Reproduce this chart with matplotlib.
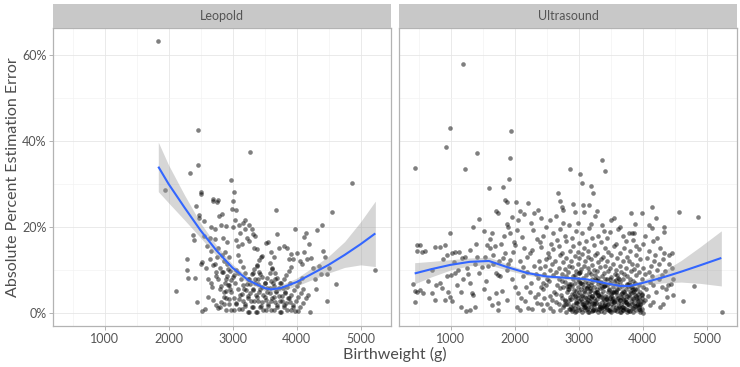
import numpy as np
import matplotlib
matplotlib.use("Agg")
import matplotlib.pyplot as plt
from matplotlib.ticker import FixedLocator, FuncFormatter

plt.rcParams['font.family'] = ['Lato', 'DejaVu Sans']

# ---------------- Leopold data ----------------
leo_sparse_bw = [1840, 1950, 2110, 2290, 2290, 2300, 2340, 2380, 2400, 2410,
                 2430, 2450, 2460, 2460, 2470, 2480, 2500, 2510, 2510, 2520,
                 2530, 2560, 2560, 2570, 2600, 2610, 2650, 2660, 2670, 2690,
                 2700, 2720, 2730, 2740, 2740, 2760, 2770, 2780, 2790, 2800,
                 2800, 2820, 2830, 2840, 2850, 2870, 2880, 2900, 2920, 2930,
                 2950, 2980, 2990, 3000, 3010, 3030, 3040, 3050, 3060, 3080,
                 3100, 3120, 3150, 3170, 3190, 3200, 3230, 3260, 3280, 3300,
                 3320, 3340, 3380, 3450, 3520, 3550, 3600, 3650, 3680, 3700,
                 3730, 3800, 3850, 3880, 3920, 3950, 3980, 4000, 4050, 4080,
                 4110, 4120, 4150, 4170, 4200, 4210, 4230, 4250, 4280, 4300,
                 4320, 4350, 4380, 4400, 4420, 4440, 4470, 4480, 4500, 4560,
                 4620, 4870, 5230, 2620, 2680, 2700, 2720, 2760, 2800, 2840,
                 2860, 2880, 2900, 2920, 2940, 2960, 2580, 2640, 2660, 3250,
                 3350]
leo_sparse_err = [63.2, 28.5, 5.2, 12.5, 10.0, 8.2, 32.5, 18.2, 17.0, 8.2,
                  24.8, 2.5, 42.5, 34.5, 22.8, 22.0, 28.2, 27.7, 11.5, 11.8,
                  0.5, 17.8, 21.3, 1.0, 15.5, 3.8, 12.5, 14.5, 7.0, 26.5,
                  26.0, 17.3, 19.5, 8.5, 1.8, 25.8, 26.2, 15.0, 22.5, 10.5,
                  5.5, 20.5, 23.0, 13.5, 17.5, 2.0, 14.2, 20.2, 16.5, 10.3,
                  3.2, 31.0, 24.2, 20.0, 26.0, 28.2, 21.5, 24.0, 17.0, 15.5,
                  20.5, 18.5, 16.0, 21.0, 21.5, 19.5, 17.5, 16.8, 37.3, 19.5,
                  18.3, 15.0, 14.8, 13.0, 16.3, 16.5, 14.2, 13.0, 24.0, 18.3,
                  15.0, 15.5, 15.0, 12.5, 13.8, 12.5, 19.5, 14.0, 12.0, 11.5,
                  17.7, 14.3, 18.5, 12.5, 16.0, 0.3, 12.8, 10.5, 8.0, 5.5,
                  19.2, 11.0, 9.0, 20.5, 14.5, 13.0, 9.0, 2.8, 10.5, 23.5,
                  6.8, 30.2, 10.0, 8.0, 6.0, 3.0, 11.5, 13.0, 1.5, 9.5,
                  12.0, 7.0, 0.8, 8.5, 13.0, 5.5, 10.5, 17.5, 20.0, 20.5,
                  18.0]

leo_streak_bw = [3020, 3060, 3100, 3140, 3180, 3220, 3260, 3300, 3340, 3380, 3420, 3460,
                 2980, 2940, 2900, 2860, 2820, 2780, 2740, 2700,
                 3240, 3200, 3160, 3120, 3080, 3040, 3000, 2960, 2920,
                 3260, 3300, 3340, 3380, 3420, 3460, 3500, 3540, 3580, 3620,
                 3480, 3440, 3400, 3360, 3320, 3280, 3240, 3200, 3160, 3120, 3080,
                 3520, 3560, 3600, 3640, 3680, 3720, 3760, 3800, 3840, 3880, 3920,
                 3740, 3700, 3660, 3620, 3580, 3540, 3500, 3460, 3420, 3380,
                 3760, 3800, 3840, 3880, 3920, 3960, 4000, 4040, 4080,
                 3980, 3940, 3900, 3860, 3820, 3780, 3740, 3700, 3660, 3620, 3580,
                 4020, 4060, 4100, 4140, 4180,
                 2780, 2820, 2860, 2900, 2940, 2980, 3020, 3060,
                 3095, 3055, 3015, 2975, 2935, 2895, 2855,
                 3155, 3195, 3235, 3275, 3315, 3355, 3395, 3435,
                 3365, 3325, 3285, 3245, 3205, 3165, 3125, 3085,
                 3385, 3425, 3465, 3505, 3545, 3585, 3625, 3665,
                 3595, 3555, 3515, 3475, 3435, 3395, 3355, 3315,
                 3655, 3695, 3735, 3775, 3815, 3855, 3895,
                 3845, 3805, 3765, 3725, 3685, 3645, 3605,
                 3905, 3945, 3985, 4025, 4065, 4105]
leo_streak_err = [0.7, 2.0, 3.2, 4.5, 5.7, 6.8, 8.0, 9.1, 10.2, 11.2, 12.3, 13.3,
                  0.7, 2.0, 3.4, 4.9, 6.4, 7.9, 9.5, 11.1,
                  0.3, 1.6, 2.8, 4.2, 5.5, 6.9, 8.3, 9.8, 11.3,
                  0.3, 1.5, 2.7, 3.8, 5.0, 6.1, 7.1, 8.2, 9.2, 10.2,
                  0.6, 1.7, 2.9, 4.2, 5.4, 6.7, 8.0, 9.4, 10.8, 12.2, 13.6,
                  0.6, 1.7, 2.8, 3.8, 4.9, 5.9, 6.9, 7.9, 8.9, 9.8, 10.7,
                  0.3, 1.4, 2.5, 3.6, 4.7, 5.9, 7.1, 8.4, 9.6, 10.9,
                  0.3, 1.3, 2.3, 3.4, 4.3, 5.3, 6.3, 7.2, 8.1,
                  0.5, 1.5, 2.6, 3.6, 4.7, 5.8, 7.0, 8.1, 9.3, 10.5, 11.7,
                  0.5, 1.5, 2.4, 3.4, 4.3,
                  1.1, 2.5, 3.8, 5.2, 6.5, 7.7, 8.9, 10.1,
                  1.0, 2.3, 3.6, 5.0, 6.5, 7.9, 9.5,
                  1.0, 2.2, 3.4, 4.6, 5.7, 6.9, 8.0, 9.0,
                  0.3, 1.5, 2.7, 4.0, 5.3, 6.6, 8.0, 9.4,
                  0.3, 1.5, 2.6, 3.7, 4.8, 5.9, 6.9, 7.9,
                  0.8, 2.0, 3.1, 4.3, 5.5, 6.8, 8.0, 9.4,
                  0.8, 1.9, 2.9, 4.0, 5.0, 6.0, 6.9,
                  0.8, 1.8, 2.9, 4.0, 5.2, 6.3, 7.5,
                  0.8, 1.8, 2.8, 3.7, 4.7, 5.6]

# Leopold loess fit
leo_fit_bw = [1840, 2000, 2250, 2500, 2750, 3000, 3250, 3500, 3600, 3750,
              4000, 4250, 4500, 4750, 5000, 5230]
leo_fit = [34.0, 30.0, 24.5, 19.2, 14.5, 10.5, 7.6, 5.8, 5.5, 5.8,
           7.2, 9.2, 11.2, 13.5, 16.0, 18.5]
leo_fit_lo = [28.2, 25.6, 21.6, 17.5, 13.3, 9.7, 6.9, 5.2, 4.9, 5.1,
              6.3, 7.8, 9.3, 10.6, 11.2, 10.8]
leo_fit_hi = [39.7, 34.4, 27.4, 20.9, 15.7, 11.3, 8.3, 6.4, 6.1, 6.5,
              8.1, 10.6, 13.2, 16.6, 21.2, 26.0]

# ---------------- Ultrasound data ----------------
us_left_bw = [446, 1201, 992, 930, 1420, 1222, 1951, 1925, 1909, 1602,
              1826, 1852, 1888, 2024, 1711, 1748, 1347, 1451, 998,
              470, 530, 470, 560, 600, 420, 446, 470, 520, 446,
              575, 715, 760, 860, 965, 992, 1018, 830, 780, 705,
              760, 836, 915, 940, 1018, 1070, 1125, 1175, 1230, 1305,
              1003, 1070, 1120, 940, 915, 1165, 1245, 1305, 1383, 1305,
              1330, 1345, 1450, 1487, 1565, 1617, 1645, 1710, 1748, 1775,
              1878, 1905, 1930, 1982, 2008, 1930, 1878, 1905, 1955, 2034,
              2112, 1617, 1670, 1705, 1748, 1748, 1800, 1878, 2034, 2060,
              2125, 2138, 2190, 2242, 2268, 2294, 2346, 2398, 2410, 2380,
              2360, 2410, 2346, 2320, 2242, 2216, 2165, 2086,
              1540, 1580, 1660, 1690, 1560, 1520, 1600, 1650, 1820, 1850,
              1790, 1960, 2000, 2080, 2150, 2200, 2250, 2300, 2330, 2100,
              2180, 2270, 2370, 2400, 1280, 1380, 1400, 1420, 1100, 1160,
              1200, 650, 1050, 880, 1250, 2420, 2360, 2260, 2150, 2210,
              2050, 1990, 1830, 1760, 1530, 2420, 2440]
us_left_err = [33.8, 57.9, 42.9, 38.6, 37.1, 33.4, 42.2, 36.0, 31.1, 29.1,
               29.3, 26.3, 25.9, 25.9, 23.8, 23.2, 20.1, 21.9, 18.5,
               15.8, 15.9, 14.5, 14.3, 14.5, 6.8, 5.2, 5.0, 5.3, 2.5,
               4.6, 4.6, 3.1, 5.9, 4.8, 3.7, 2.9, 7.0, 6.6, 10.0,
               15.4, 15.4, 15.8, 13.5, 13.9, 14.3, 14.3, 12.7, 13.1, 14.7,
               8.9, 9.3, 10.0, 8.5, 3.1, 1.5, 0.4, 0.6, 1.5, 6.9,
               4.6, 4.2, 9.3, 10.8, 15.8, 15.0, 18.5, 9.3, 8.9, 8.5,
               10.0, 11.5, 12.3, 14.3, 15.8, 18.5, 20.8, 20.1, 22.4, 19.3,
               17.6, 17.2, 11.5, 4.6, 0.8, 2.3, 5.2, 3.1, 1.5, 4.6,
               8.5, 10.8, 13.1, 13.9, 14.7, 19.3, 17.2, 16.5, 15.3, 12.1,
               8.1, 6.0, 2.3, 3.8, 4.9, 1.2, 2.7, 0.8,
               13.0, 11.0, 13.5, 15.5, 7.5, 5.5, 3.5, 1.8, 12.8, 14.0,
               16.0, 8.0, 6.0, 12.0, 15.0, 9.5, 7.0, 11.0, 9.0, 3.5,
               6.0, 1.0, 4.5, 10.5, 9.0, 11.5, 16.0, 13.0, 6.5, 5.0,
               7.8, 7.5, 11.8, 12.5, 10.5, 22.0, 24.0, 21.0, 23.0, 25.5,
               21.5, 16.5, 18.0, 12.0, 19.0, 2.0, 7.0]

us_mid_bw = [
    2445, 2462, 2438, 2455, 2470, 2448,
    2505, 2490, 2512, 2497, 2520, 2488,
    2548, 2560, 2541, 2555, 2538, 2566, 2552,
    2602, 2590, 2611, 2596, 2585, 2607, 2598,
    2655, 2642, 2661, 2648, 2638, 2657, 2652,
    2703, 2692, 2711, 2698, 2688, 2707, 2695, 2714,
    2752, 2740, 2761, 2745, 2758, 2737, 2750,
    2800, 2788, 2812, 2795, 2806, 2783, 2798, 2809, 2791,
    2852, 2840, 2861, 2845, 2858, 2837, 2849, 2862, 2843,
    2898, 2910, 2889, 2903, 2892, 2912, 2896, 2885, 2906, 2900,
    2952, 2940, 2961, 2945, 2958, 2937, 2949, 2963, 2942, 2955,
    3003, 2990, 3012, 2995, 3008, 2984, 3000, 3014, 2992, 3006, 2988, 3010, 2997,
    3052, 3040, 3061, 3045, 3058, 3037, 3049, 3063, 3042, 3055, 3048,
    3100, 3088, 3112, 3095, 3106, 3083, 3098, 3109, 3091, 3104, 3087, 3111,
    3152, 3140, 3161, 3145, 3158, 3137, 3149, 3163, 3142, 3155, 3147, 3160,
    3203, 3190, 3212, 3195, 3208, 3184, 3200, 3214, 3192, 3206, 3188, 3210, 3197,
    3252, 3240, 3261, 3245, 3258, 3237, 3249, 3263, 3242, 3255, 3247, 3260,
    3300, 3288, 3312, 3295, 3306, 3283, 3298, 3309, 3291, 3304, 3287, 3311,
    3352, 3340, 3361, 3345, 3358, 3337, 3349, 3363, 3342, 3355, 3347, 3360,
    3403, 3390, 3412, 3395, 3408, 3384, 3400, 3414, 3392, 3406, 3388, 3410, 3397,
    3452, 3440, 3461, 3445, 3458, 3437, 3449, 3463, 3442, 3455, 3447,
    3500, 3488, 3512, 3495, 3506, 3483, 3498, 3509, 3491, 3504, 3487, 3511,
    3552, 3540, 3561, 3545, 3558, 3537, 3549, 3563, 3542, 3555,
    3603, 3590, 3612, 3595, 3608, 3584, 3600, 3614, 3592, 3606, 3588, 3610,
    3652, 3640, 3661, 3645, 3658, 3637, 3649, 3663, 3642, 3655, 3647,
    3700, 3688, 3712, 3695, 3706, 3683, 3698, 3709, 3691, 3704, 3687,
    3752, 3740, 3761, 3745, 3758, 3737, 3749, 3763, 3742, 3755, 3747,
    3803, 3790, 3812, 3795, 3808, 3784, 3800, 3814, 3792, 3806, 3788,
    3852, 3840, 3861, 3845, 3858, 3837, 3849, 3863, 3842, 3855,
    3900, 3888, 3912, 3895, 3906, 3883, 3898, 3909, 3891, 3904,
    3952, 3940, 3961, 3945, 3958, 3937, 3949, 3963, 3942,
    4003, 3990, 4012, 3995, 4008, 3984, 4000, 4014]
us_mid_err = [
    0.8, 3.5, 5.5, 9.0, 11.0, 18.0,
    2.0, 6.5, 8.0, 12.5, 14.0, 20.0,
    1.2, 4.0, 7.5, 10.0, 13.0, 16.0, 21.5,
    0.5, 3.0, 5.0, 8.8, 11.5, 14.8, 18.5,
    2.5, 4.5, 6.5, 9.5, 12.0, 17.0, 22.5,
    0.8, 2.2, 5.8, 7.8, 10.5, 13.5, 15.5, 19.5,
    1.5, 3.5, 6.0, 9.0, 11.8, 14.0, 21.0,
    0.3, 2.8, 4.8, 7.2, 8.5, 10.2, 12.8, 16.8, 18.0,
    1.0, 2.0, 3.8, 5.5, 6.8, 9.5, 11.0, 14.5, 20.5,
    0.5, 1.8, 3.2, 4.5, 6.2, 7.8, 10.8, 12.2, 15.5, 17.5,
    0.2, 1.2, 2.5, 4.0, 5.2, 7.0, 8.8, 9.8, 13.2, 19.0,
    0.8, 1.5, 2.8, 3.5, 4.8, 6.0, 7.5, 9.2, 11.5, 12.8, 14.2, 16.2, 21.0,
    0.3, 1.0, 2.2, 3.2, 4.2, 5.5, 6.8, 8.2, 10.2, 13.8, 18.5,
    0.6, 1.8, 2.6, 3.8, 5.0, 6.0, 7.2, 8.8, 11.0, 12.0, 15.0, 16.8,
    0.2, 1.2, 2.0, 3.0, 4.5, 5.8, 7.0, 9.5, 10.5, 13.0, 14.5, 19.8,
    0.4, 1.4, 2.4, 3.4, 4.0, 5.2, 6.5, 8.0, 9.0, 11.2, 12.5, 17.5, 20.8,
    0.8, 1.6, 2.8, 3.6, 4.8, 6.0, 7.8, 8.8, 10.0, 13.5, 15.8, 22.5,
    0.2, 1.0, 2.0, 3.2, 4.2, 5.5, 6.8, 7.5, 9.8, 11.8, 14.0, 18.0,
    0.5, 1.5, 2.5, 3.8, 4.5, 5.8, 7.2, 8.5, 10.8, 12.5, 16.5, 20.5,
    0.3, 1.2, 2.2, 3.0, 4.0, 5.2, 6.2, 8.0, 9.2, 11.0, 13.0, 15.2, 19.0,
    0.6, 1.8, 2.8, 3.8, 5.0, 6.5, 7.8, 9.8, 12.0, 14.2, 17.5,
    0.2, 1.0, 2.0, 3.4, 4.4, 5.6, 7.0, 8.4, 10.5, 13.5, 18.8, 21.5,
    0.8, 1.6, 2.6, 3.5, 4.8, 6.0, 7.5, 9.0, 11.5, 15.5,
    0.4, 1.4, 2.4, 3.2, 4.2, 5.2, 6.8, 8.2, 10.0, 12.8, 16.0, 19.5,
    0.2, 1.2, 2.0, 3.0, 4.5, 5.8, 7.2, 9.5, 11.0, 14.0, 20.0,
    0.6, 1.5, 2.6, 3.6, 4.8, 6.2, 7.8, 9.0, 12.2, 15.0, 18.0,
    0.3, 1.0, 2.2, 3.2, 4.0, 5.5, 6.5, 8.5, 10.5, 13.0, 16.8,
    0.5, 1.8, 2.8, 4.2, 5.2, 7.0, 8.0, 9.8, 12.0, 14.5, 18.5,
    0.2, 1.2, 2.4, 3.5, 4.8, 6.0, 7.5, 10.2, 11.5, 17.0,
    0.8, 1.6, 3.0, 4.0, 5.5, 7.0, 8.8, 11.2, 13.5, 15.5,
    0.3, 1.4, 2.2, 3.8, 5.0, 6.5, 9.5, 12.5, 14.8,
    0.0, 1.0, 2.6, 4.5, 6.0, 8.0, 10.5, 16.0]

us_core_bw = [2725, 2768, 2814, 2857, 2893, 2931, 2978, 3018, 3057, 3094,
              3136, 3171, 3218, 3253, 3296, 3331, 3378, 3419, 3457, 3493,
              3534, 3578, 3617, 3656, 3693, 3734, 3772, 3818, 3857, 3896,
              3934, 3975, 2742, 2786, 2829, 2872, 2915, 2957, 2996, 3035,
              3078, 3117, 3158, 3196, 3236, 3275, 3318, 3356, 3397, 3436,
              3476, 3517, 3556, 3597, 3636, 3676, 3714, 3757, 3795, 3836,
              3876, 3916, 3957, 3993, 2806, 2848, 2884, 2925, 2966, 3007,
              3046, 3085, 3127, 3166, 3207, 3245, 3284, 3325, 3366, 3405,
              3446, 3484, 3525, 3566, 3605, 3646, 3684, 3725, 3766, 3805,
              3846, 3885, 3925, 3966, 2875, 2945, 3025, 3105, 3185, 3265,
              3345, 3425, 3505, 3585, 3665, 3745, 3825, 3905, 3985, 2990,
              3070, 3150, 3230, 3310, 3390, 3470, 3550, 3630, 3710, 3790,
              3870, 3950, 3130, 3290, 3450, 3610, 3770, 3930, 3210, 3370,
              3530, 3690, 3850]
us_core_err = [4.2, 1.9, 6.3, 3.1, 0.9, 5.4, 2.3, 7.1, 3.9, 1.3,
               5.9, 2.7, 0.6, 4.6, 8.2, 1.7, 3.4, 6.6, 2.1, 0.4,
               4.9, 7.7, 1.1, 3.7, 5.1, 2.5, 0.7, 6.1, 3.3, 1.6,
               4.4, 2.9, 7.4, 3.0, 5.7, 1.0, 8.6, 2.4, 4.1, 6.9,
               1.5, 3.6, 0.3, 5.3, 2.2, 7.6, 4.0, 1.2, 6.4, 3.2,
               0.8, 5.0, 2.6, 8.9, 1.4, 4.7, 3.1, 6.7, 0.5, 2.0,
               5.6, 3.5, 1.8, 4.3, 2.0, 6.2, 1.3, 4.5, 0.4, 9.2,
               2.9, 5.2, 1.0, 3.8, 7.3, 2.3, 4.8, 0.9, 6.0, 1.9,
               3.3, 7.9, 2.7, 0.6, 5.5, 3.0, 1.5, 4.4, 2.1, 6.5,
               1.1, 4.1, 2.8, 0.7, 6.8, 3.6, 9.6, 1.6, 5.8, 2.4,
               7.0, 1.4, 3.9, 5.0, 0.3, 2.6, 4.6, 1.8, 3.4, 8.0,
               2.2, 6.3, 0.8, 4.2, 1.7, 5.4, 2.9, 7.8, 1.2, 3.7,
               5.1, 0.9, 2.5, 4.9, 1.0, 3.5, 6.2, 2.0, 4.0, 1.5,
               3.2, 0.6, 5.7]

us_right_bw = [2867, 3024, 3050, 3201, 3222, 3362, 3414, 2685, 2711, 2920,
               3076, 3159, 2086, 2305, 2737, 2763, 2946, 3091, 3284, 3555,
               3841, 3872, 3820, 3997, 4154, 4211, 4143, 4336, 4570, 4872,
               3883, 4409, 4456, 4628, 4810, 5237, 4477, 4274,
               4040, 4060, 4030, 4070, 4045, 4110, 4090, 4120, 4100, 4130,
               4105, 4095, 4160, 4170, 4150, 4180, 4165, 4210, 4220, 4200,
               4230, 4260, 4250, 4270, 4310, 4300, 4320, 4330, 4360, 4350,
               4340, 4400, 4420, 4460, 4480, 4440, 4380, 4320]
us_right_err = [33.5, 32.4, 30.3, 29.5, 27.8, 35.5, 33.0, 28.0, 26.0, 25.4,
                25.2, 25.1, 23.6, 23.3, 24.7, 23.9, 23.5, 23.5, 23.7, 22.0,
                18.7, 18.7, 23.2, 23.2, 24.6, 22.0, 19.7, 20.1, 23.5, 22.4,
                20.8, 11.5, 13.9, 2.7, 6.4, 0.2, 4.2, 1.5,
                3.0, 5.5, 9.0, 12.8, 18.0, 1.8, 4.0, 7.2, 9.5, 11.0,
                14.5, 20.5, 2.5, 6.5, 8.5, 12.0, 16.8, 4.8, 10.0, 13.5,
                17.5, 7.8, 11.5, 15.0, 6.0, 8.8, 12.5, 18.8, 5.5, 9.8,
                14.0, 6.5, 13.5, 10.5, 8.0, 6.8, 3.8, 2.0]

# Ultrasound loess fit
us_fit_bw = [440, 700, 1000, 1300, 1600, 1900, 2200, 2500, 2800, 3100,
             3400, 3650, 3800, 4000, 4300, 4600, 4900, 5230]
us_fit = [9.2, 10.2, 11.2, 11.9, 12.1, 10.6, 9.3, 8.5, 8.2, 7.9,
          7.0, 6.3, 6.3, 7.0, 8.2, 9.6, 11.1, 12.8]
us_fit_lo = [6.8, 8.4, 10.0, 11.0, 11.2, 9.9, 8.8, 8.1, 7.8, 7.5,
             6.6, 5.9, 5.9, 6.4, 7.0, 7.2, 6.9, 6.3]
us_fit_hi = [11.7, 12.0, 12.4, 12.8, 13.0, 11.3, 9.8, 8.9, 8.6, 8.3,
             7.4, 6.7, 6.8, 7.6, 9.5, 12.2, 15.4, 19.1]

panels = ["Leopold", "Ultrasound"]
x_ticks = [1000, 2000, 3000, 4000, 5000]
y_ticks = [0, 20, 40, 60]

# ---------------- Figure ----------------
W, H = 740, 367
fig = plt.figure(figsize=(W / 100, H / 100), dpi=100)
fig.patch.set_facecolor('white')

def fx(px):
    return px / W

def fy(py):
    return 1 - py / H

panel_left = [53.3, 399.3]
panel_w = 337.4
panel_top, panel_bot = 28.0, 326.0
strip_top = 4.0

data = [
    (np.array(leo_sparse_bw + leo_streak_bw), np.array(leo_sparse_err + leo_streak_err),
     leo_fit_bw, leo_fit, leo_fit_lo, leo_fit_hi),
    (np.array(us_left_bw + us_mid_bw + us_core_bw + us_right_bw),
     np.array(us_left_err + us_mid_err + us_core_err + us_right_err),
     us_fit_bw, us_fit, us_fit_lo, us_fit_hi),
]

tick_color = '#B3B3B3'
text_color = '#555555'

for i, name in enumerate(panels):
    x0 = panel_left[i]
    ax = fig.add_axes([fx(x0), fy(panel_bot), panel_w / W, (panel_bot - panel_top) / H])
    bw, err, fbw, fit, flo, fhi = data[i]
    ax.set_xlim(200, 5470)
    ax.set_ylim(-3.0, 66.2)
    ax.xaxis.set_major_locator(FixedLocator(x_ticks))
    ax.xaxis.set_minor_locator(FixedLocator([500, 1500, 2500, 3500, 4500]))
    ax.yaxis.set_major_locator(FixedLocator(y_ticks))
    ax.yaxis.set_minor_locator(FixedLocator([10, 30, 50]))
    ax.grid(which='major', color='#E6E6E6', linewidth=0.6)
    ax.grid(which='minor', color='#F3F3F3', linewidth=0.5)
    ax.set_axisbelow(True)
    for sp in ax.spines.values():
        sp.set_color(tick_color)
        sp.set_linewidth(0.9)
    ax.tick_params(which='major', length=3, width=0.7, color=tick_color,
                   labelsize=9, labelcolor=text_color, pad=2)
    ax.tick_params(which='minor', length=0)
    ax.yaxis.set_major_formatter(FuncFormatter(lambda v, p: f"{int(v)}%"))
    if i == 1:
        ax.tick_params(axis='y', which='major', length=0, labelleft=False)

    ax.scatter(bw, err, s=11, color='black', alpha=0.5, linewidths=0, zorder=2)
    ax.fill_between(fbw, flo, fhi, color='#999999', alpha=0.4, linewidth=0, zorder=3)
    ax.plot(fbw, fit, color='#3366FF', linewidth=1.5, zorder=4, solid_capstyle='butt')

    # strip
    sax = fig.add_axes([fx(x0), fy(panel_top), panel_w / W, (panel_top - strip_top) / H])
    sax.set_xticks([])
    sax.set_yticks([])
    sax.set_facecolor('#C8C8C8')
    for sp in sax.spines.values():
        sp.set_visible(False)
    sax.text(0.5, 0.5, name, ha='center', va='center', fontsize=9,
             color='#555555', transform=sax.transAxes)

fig.text(fx(395), fy(354), "Birthweight (g)", ha='center', va='center',
         fontsize=11.5, color='#4D4D4D')
fig.text(fx(13), fy(177), "Absolute Percent Estimation Error", ha='center', va='center',
         rotation=90, fontsize=11.5, color='#4D4D4D')

fig.savefig("out.png", dpi=100, facecolor='white')
